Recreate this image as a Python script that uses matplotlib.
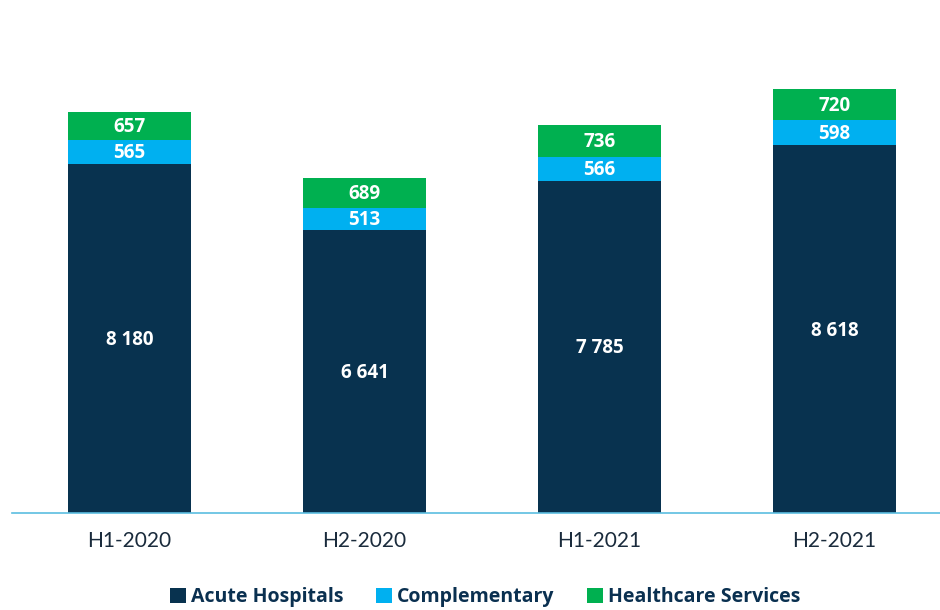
import matplotlib.pyplot as plt
import numpy as np

periods = ['H1-2020', 'H2-2020', 'H1-2021', 'H2-2021']
acute = [8180, 6641, 7785, 8618]
complementary = [565, 513, 566, 598]
healthcare = [657, 689, 736, 720]

series = [('Acute Hospitals', acute, '#08324f'),
          ('Complementary', complementary, '#00b0f0'),
          ('Healthcare Services', healthcare, '#00b050')]

plt.rcParams['font.family'] = ['Lato', 'DejaVu Sans']

fig = plt.figure(figsize=(9.4, 6.1), dpi=100)
ax = fig.add_axes([12 / 940, 97 / 610, 928 / 940, 470 / 610])

x = np.arange(len(periods))
bottom = np.zeros(len(periods))
handles = []
for name, vals, color in series:
    vals = np.array(vals, dtype=float)
    b = ax.bar(x, vals, 0.52, bottom=bottom, color=color, label=name)
    handles.append(b)
    for xi, v, bt in zip(x, vals, bottom):
        txt = f'{int(v):,}'.replace(',', ' ')
        ax.text(xi, bt + v / 2 - 30, txt, ha='center', va='center',
                color='white', fontsize=13.5, fontweight='bold',
                family='Open Sans')
    bottom += vals

ax.set_xlim(-0.5, -0.5 + 928 / 235)
ax.set_ylim(0, 470 / 0.04265)
ax.set_xticks(x)
ax.set_xticklabels(periods, fontsize=15, color='#1a2b3c')
ax.tick_params(axis='x', length=0, pad=13)
ax.set_yticks([])
for s in ['top', 'right', 'left']:
    ax.spines[s].set_visible(False)
ax.spines['bottom'].set_color('#5bbde0')
ax.spines['bottom'].set_linewidth(1.2)

leg = fig.legend(handles=handles, loc='center', bbox_to_anchor=(0.516, 13 / 610),
                 ncol=3, frameon=False, handlelength=0.8, handleheight=0.8,
                 handletextpad=0.25, columnspacing=1.7,
                 prop={'family': 'Open Sans', 'size': 14, 'weight': 'bold'})
for t in leg.get_texts():
    t.set_color('#0a3050')

fig.savefig('out.png', dpi=100)
